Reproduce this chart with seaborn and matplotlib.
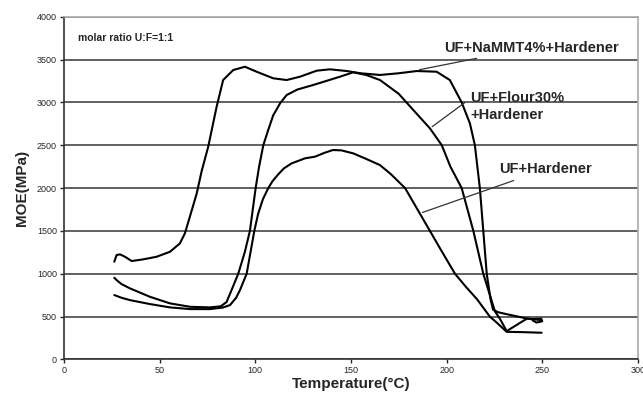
import matplotlib
matplotlib.use("Agg")
import matplotlib.pyplot as plt
import seaborn as sns
import pandas as pd

# UF + NaMMT4% + Hardener
t_nammt = [26.3, 27.5, 29.3, 31.9, 35.4, 41.5, 48.4, 55.4, 60.6, 63.2, 66.0, 69.4,
           72.0, 75.4, 79.8, 83.2, 88.5, 94.6, 100.7, 109.4, 116.4, 123.4, 132.1,
           139.0, 147.8, 155.0, 165.2, 175.0, 184.4, 194.8, 201.7, 207.9, 212.2,
           214.8, 217.4, 219.2, 221.0, 223.0, 224.3, 227.0, 233.0, 241.8, 245.0,
           249.5, 250.0, 247.0, 245.0]
moe_nammt = [1140, 1218, 1226, 1198, 1148, 1168, 1198, 1256, 1354, 1471, 1680, 1938,
             2200, 2482, 2949, 3261, 3378, 3416, 3358, 3281, 3261, 3300, 3370,
             3386, 3366, 3340, 3320, 3340, 3366, 3358, 3261, 3000, 2755,
             2500, 2000, 1500, 1000, 700, 580, 550, 520, 478, 470,
             475, 445, 430, 455]

# UF + Flour30% + Hardener
t_flour = [26.3, 27.5, 30.0, 34.5, 44.9, 55.4, 65.9, 76.3, 82.0, 85.0, 87.6, 91.1,
           94.5, 97.2, 100.2, 102.0, 104.2, 106.8, 109.4, 113.0, 116.4, 122.0,
           130.3, 144.3, 151.2, 158.0, 165.2, 175.0, 182.6, 191.3, 197.5, 202.0,
           207.9, 214.0, 219.2, 225.3, 228.0, 231.4, 239.3, 242.0, 249.0]
moe_flour = [953, 926, 880, 829, 731, 654, 614, 607, 620, 670, 809, 1000,
             1250, 1500, 2000, 2250, 2500, 2680, 2850, 2990, 3086, 3150,
             3203, 3300, 3351, 3320, 3261, 3100, 2911, 2697, 2500, 2250,
             2000, 1500, 1000, 560, 470, 330, 439, 475, 460]

# UF + Hardener
t_uf = [26.3, 30.0, 34.5, 44.9, 55.4, 65.9, 76.3, 83.0, 86.8, 90.0, 92.0, 95.5,
        97.5, 99.5, 101.5, 104.0, 106.8, 109.0, 112.0, 115.0, 119.0, 126.0,
        131.2, 136.0, 140.6, 145.0, 151.2, 158.0, 165.2, 171.0, 178.3, 186.0,
        191.3, 197.0, 204.4, 210.0, 216.0, 222.6, 226.2, 231.4, 240.0, 249.7]
moe_uf = [751, 720, 692, 646, 607, 587, 587, 605, 634, 720, 809, 1000,
          1250, 1500, 1700, 1870, 2000, 2080, 2160, 2230, 2288, 2347,
          2366, 2410, 2444, 2440, 2405, 2340, 2268, 2160, 2000, 1704,
          1500, 1280, 1000, 850, 700, 500, 430, 322, 318, 311]

x_ticks = list(range(0, 301, 50))
y_ticks = list(range(0, 4001, 500))

sns.set_style("white")
plt.rcParams['font.family'] = ['Liberation Sans', 'DejaVu Sans']

fig = plt.figure(figsize=(6.43, 3.98), dpi=100)
ax = fig.add_axes([0.0995, 0.097, 0.8925, 0.861])

for t, m in [(t_nammt, moe_nammt), (t_flour, moe_flour), (t_uf, moe_uf)]:
    df = pd.DataFrame({"T": t, "MOE": m})
    sns.lineplot(data=df, x="T", y="MOE", sort=False, estimator=None,
                 color="black", linewidth=1.5, ax=ax)

ax.set_xlim(0, 300)
ax.set_ylim(0, 4000)
ax.set_xticks(x_ticks)
ax.set_yticks(y_ticks)
ax.tick_params(axis="both", labelsize=6.5, length=3, width=1, direction="out",
               bottom=True, left=True, pad=2)
ax.yaxis.grid(True, color="#555555", linewidth=1.3)
ax.xaxis.grid(False)
ax.set_axisbelow(True)
for side in ["left", "bottom"]:
    ax.spines[side].set_color("#333333")
    ax.spines[side].set_linewidth(1.2)
for side in ["top", "right"]:
    ax.spines[side].set_color("#aaaaaa")
    ax.spines[side].set_linewidth(1.2)

ax.set_xlabel("Temperature(°C)", fontsize=11, fontweight="bold", labelpad=1)
ax.set_ylabel("MOE(MPa)", fontsize=11, fontweight="bold", labelpad=6)

ax.text(7.3, 3755, "molar ratio U:F=1:1", fontsize=7.5, fontweight="bold",
        va="center", ha="left")

arrow = dict(arrowstyle="-", color="#333333", linewidth=0.9)
ax.annotate("UF+NaMMT4%+Hardener", xy=(184.4, 3375), xytext=(198.5, 3640),
            fontsize=10.5, fontweight="bold", va="center", ha="left",
            arrowprops=arrow)
ax.annotate("UF+Flour30%\n+Hardener", xy=(191.3, 2697), xytext=(212.5, 2955),
            fontsize=10.5, fontweight="bold", va="center", ha="left",
            linespacing=1.3, arrowprops=dict(arrow, relpos=(0, 0.75)))
ax.annotate("UF+Hardener", xy=(186, 1704), xytext=(227.5, 2218),
            fontsize=10.5, fontweight="bold", va="center", ha="left",
            arrowprops=arrow)

fig.savefig("out.png", dpi=100)
